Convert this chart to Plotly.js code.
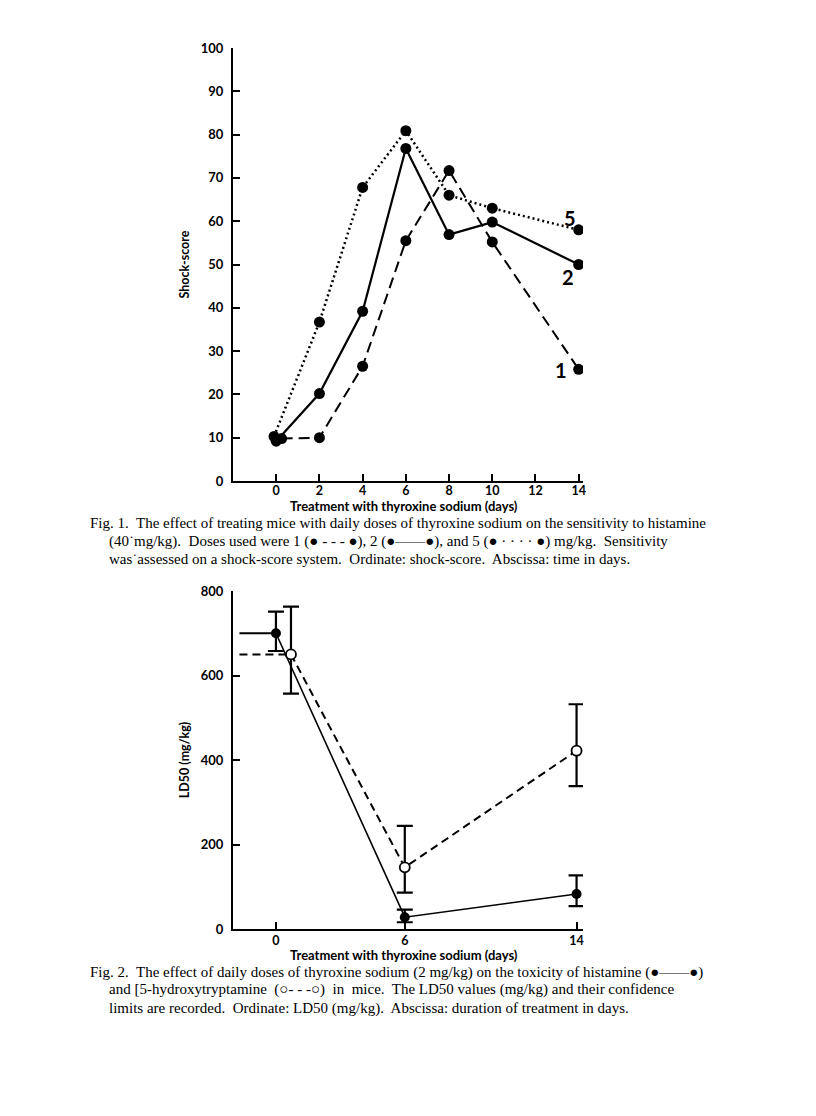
<!DOCTYPE html>
<html>
<head>
<meta charset="utf-8">
<script src="https://cdn.plot.ly/plotly-3.0.1.min.js"></script>
<style>html,body{margin:0;padding:0;background:#fff;}#chart{width:816px;height:1116px;}</style>
</head>
<body>
<div id="chart"></div>
<script>
// ---- Fig. 1 data: shock-score vs days of treatment ----
const fig1DaysDose1 = [0.25, 2, 4, 6, 8, 10, 14];
const fig1DaysDose2 = [0, 2, 4, 6, 8, 10, 14];
const fig1DaysDose5 = [-0.1, 2, 4, 6, 8, 10, 14];
const shockDose1 = [9.8, 10, 26.5, 55.5, 71.7, 55.2, 25.8];
const shockDose2 = [9.2, 20.2, 39.2, 76.8, 56.9, 59.8, 50];
const shockDose5 = [10.3, 36.7, 67.8, 80.9, 66, 63, 58];
const fig1TickVals = [0, 2, 4, 6, 8, 10, 12, 14];
const fig1YTicks = [0, 10, 20, 30, 40, 50, 60, 70, 80, 90, 100];
const doseLabels = ["1", "2", "5"];
const doseLabelX = [13.2, 13.5, 13.6];
const doseLabelY = [25.6, 47, 60.7];

// ---- Fig. 2 data: LD50 (mg/kg) with confidence limits ----
const histDays = [0, 6, 14];
const histLD50 = [700, 28, 83];
const histUpper = [751, 46, 127];
const histLower = [658, 16, 54];
const htDays = [0.7, 6, 14];
const htLD50 = [650, 146, 422];
const htUpper = [763, 244, 532];
const htLower = [557, 86, 338];
const histLeadX = [-1.7, 0];
const histLeadY = [700, 700];
const htLeadX = [-1.7, 0.7];
const htLeadY = [650, 650];
const fig2TickVals = [0, 6, 14];
const fig2YTicks = [0, 200, 400, 600, 800];

// ---- layout geometry (pixels) ----
const W = 816, H = 1116;
const L = 233, R = 583, T = 48, B = 929;
const PW = R - L, PH = B - T;
const px = x => (x - L) / PW;
const py = y => (B - y) / PH;

const sans = 'Lato, "DejaVu Sans", sans-serif';
const xTickFont = {family: sans, size: 12.5, color: '#000', weight: 'bold'};
const yTickFont = {family: sans, size: 13, color: '#000', weight: 'bold'};
const titleFont = {family: sans, size: 13, color: '#000', weight: 'bold'};
const capFont = {family: '"Liberation Serif", "DejaVu Serif", serif', size: 15, color: '#000'};

const traces = [
  {x: fig1DaysDose1, y: shockDose1, xaxis: 'x', yaxis: 'y', mode: 'lines+markers',
   line: {color: '#000', width: 2, dash: '11px,6px'}, marker: {color: '#000', size: 11}, name: '1 mg/kg'},
  {x: fig1DaysDose2, y: shockDose2, xaxis: 'x', yaxis: 'y', mode: 'lines+markers',
   line: {color: '#000', width: 2.2}, marker: {color: '#000', size: 11}, name: '2 mg/kg'},
  {x: fig1DaysDose5, y: shockDose5, xaxis: 'x', yaxis: 'y', mode: 'lines+markers',
   line: {color: '#000', width: 2.5, dash: '2px,3px'}, marker: {color: '#000', size: 11}, name: '5 mg/kg'},

  {x: histLeadX, y: histLeadY, xaxis: 'x2', yaxis: 'y2', mode: 'lines',
   line: {color: '#000', width: 2}, hoverinfo: 'skip', name: 'histamine baseline'},
  {x: htLeadX, y: htLeadY, xaxis: 'x2', yaxis: 'y2', mode: 'lines',
   line: {color: '#000', width: 2, dash: '8px,5px'}, hoverinfo: 'skip', name: '5-HT baseline'},
  {x: histDays, y: histLD50, xaxis: 'x2', yaxis: 'y2', mode: 'lines+markers',
   line: {color: '#000', width: 1.6}, marker: {color: '#000', size: 10},
   error_y: {type: 'data', symmetric: false,
     array: histUpper.map((u, i) => u - histLD50[i]),
     arrayminus: histLD50.map((v, i) => v - histLower[i]),
     color: '#000', thickness: 2.2, width: 8}, name: 'histamine'},
  {x: htDays, y: htLD50, xaxis: 'x2', yaxis: 'y2', mode: 'lines+markers',
   line: {color: '#000', width: 2, dash: '8px,5px'},
   marker: {color: '#fff', size: 10, line: {color: '#000', width: 1.8}},
   error_y: {type: 'data', symmetric: false,
     array: htUpper.map((u, i) => u - htLD50[i]),
     arrayminus: htLD50.map((v, i) => v - htLower[i]),
     color: '#000', thickness: 2.2, width: 8}, name: '5-hydroxytryptamine'}
];

const annotations = [];
for (let i = 0; i < doseLabels.length; i++) {
  annotations.push({x: doseLabelX[i], y: doseLabelY[i], xref: 'x', yref: 'y', text: doseLabels[i],
    showarrow: false, font: {family: sans, size: 20, color: '#000', weight: 'bold'}});
}
// x-axis titles (placed close under the tick labels, as in the printed figure)
const xTitles = [[404, 506, 'Treatment with thyroxine sodium (days)'], [404, 955, 'Treatment with thyroxine sodium (days)']];
xTitles.forEach(t => annotations.push({x: px(t[0]), y: py(t[1]), xref: 'paper', yref: 'paper',
  xanchor: 'center', yanchor: 'middle', text: t[2], showarrow: false, font: titleFont}));

const captions = [
  [88, 523, 'Fig. 1.  The effect of treating mice with daily doses of thyroxine sodium on the sensitivity to histamine'],
  [107, 541, '(40\u02d9mg/kg).  Doses used were 1 (\u25cf - - - \u25cf), 2 (\u25cf\u2014\u2014\u25cf), and 5 (\u25cf \u00b7 \u00b7 \u00b7 \u00b7 \u25cf) mg/kg.  Sensitivity'],
  [107, 559, 'was\u02d9assessed on a shock-score system.  Ordinate: shock-score.  Abscissa: time in days.'],
  [88, 972, 'Fig. 2.  The effect of daily doses of thyroxine sodium (2 mg/kg) on the toxicity of histamine (\u25cf\u2014\u2014\u25cf)'],
  [107, 990, 'and [5-hydroxytryptamine  (\u25cb- - -\u25cb)  in  mice.  The LD50 values (mg/kg) and their confidence'],
  [107, 1008, 'limits are recorded.  Ordinate: LD50 (mg/kg).  Abscissa: duration of treatment in days.']
];
captions.forEach(c => annotations.push({x: px(c[0]), y: py(c[1]), xref: 'paper', yref: 'paper',
  xanchor: 'left', yanchor: 'middle', text: c[2], showarrow: false, font: capFont}));

const axCommon = {showline: true, linecolor: '#000', linewidth: 2, ticks: 'inside', ticklen: 7,
  tickwidth: 2, tickcolor: '#000', showgrid: false, zeroline: false, fixedrange: true};

const layout = {
  width: W, height: H, paper_bgcolor: '#fff', plot_bgcolor: '#fff', showlegend: false,
  margin: {l: L, r: W - R, t: T, b: H - B, pad: 0},
  xaxis: Object.assign({}, axCommon, {domain: [0, 1], anchor: 'y', range: [-2, 14.2], tickfont: xTickFont,
    tickvals: fig1TickVals, ticktext: fig1TickVals.map(String), ticklabelstandoff: -3}),
  yaxis: Object.assign({}, axCommon, {domain: [py(481), 1], anchor: 'x', range: [0, 100], tickfont: yTickFont,
    tickvals: fig1YTicks, ticktext: fig1YTicks.map(String), ticklabelstandoff: 5,
    title: {text: 'Shock-score', font: {family: sans, size: 12.5, color: '#000', weight: 'bold'}, standoff: 8}}),
  xaxis2: Object.assign({}, axCommon, {domain: [0, 1], anchor: 'y2', range: [-2, 14.3], tickfont: xTickFont,
    tickvals: fig2TickVals, ticktext: fig2TickVals.map(String), ticklabelstandoff: -1}),
  yaxis2: Object.assign({}, axCommon, {domain: [0, py(591)], anchor: 'x2', range: [0, 800], tickfont: yTickFont,
    tickvals: fig2YTicks, ticktext: fig2YTicks.map(String), ticklabelstandoff: 5,
    title: {text: 'LD50 (mg/kg)', font: {family: sans, size: 12.5, color: '#000', weight: 'bold'}, standoff: 8}}),
  annotations: annotations
};

Plotly.newPlot('chart', traces, layout, {staticPlot: true, displayModeBar: false});
</script>
</body>
</html>
